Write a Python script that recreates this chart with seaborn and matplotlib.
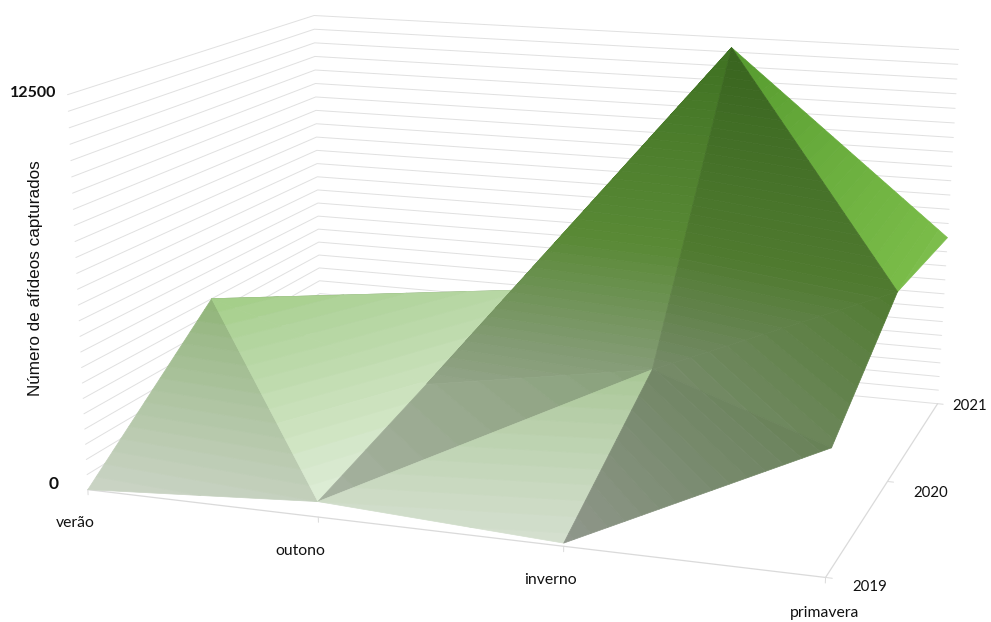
import numpy as np
import matplotlib
matplotlib.use("Agg")
import matplotlib.pyplot as plt
import seaborn as sns
from mpl_toolkits.mplot3d.art3d import Poly3DCollection

# Aphid captures per season and year
seasons = ["verão", "outono", "inverno", "primavera"]
years = ["2019", "2020", "2021"]
counts_2019 = [0, 500, 100, 3900]
counts_2020 = [4000, 1700, 2970, 6250]
counts_2021 = [400, 2800, 12150, 6000]

z_max = 12500
z_step = 500
band_step = 250
W, H = 991, 622

sns.set_theme(style="white")
plt.rcParams["font.family"] = ["Lato", "DejaVu Sans"]

surface = np.array([counts_2019, counts_2020, counts_2021], dtype=float)

# Colour of each height band, light at the floor and saturated green at the top
band_colors = np.array(sns.blend_palette(
    ["#e4f0de", "#b2d49d", "#7abc49", "#68ac3c", "#54992d"], n_colors=z_max // band_step))

# Triangulated mesh as (year index, season index) with a brightness for each face,
# listed from the back of the box to the front
faces = [
    (((1, 0), (2, 0), (2, 1)), 0.75),
    (((1, 0), (1, 1), (2, 1)), 1.00),
    (((1, 1), (2, 1), (2, 2)), 0.75),
    (((1, 1), (2, 2), (1, 2)), 0.73),
    (((2, 2), (2, 3), (1, 3)), 1.00),
    (((1, 2), (2, 2), (1, 3)), 0.65),
    (((0, 0), (0, 1), (1, 0)), 0.88),
    (((0, 1), (1, 1), (1, 0)), 1.00),
    (((0, 1), (1, 2), (1, 1)), 0.75),
    (((0, 1), (0, 2), (1, 2)), 0.93),
    (((1, 2), (0, 3), (1, 3)), 0.65),
    (((0, 2), (0, 3), (1, 2)), 0.63),
]

# Camera calibration: box corners (season, year, height) and where they fall on the canvas
box_corners = np.array([
    (0, 0, 0), (0, 0, 1), (3, 0, 0), (0, 2, 0), (0, 2, 1), (3, 2, 0), (3, 2, 1)], dtype=float)
canvas_corners = np.array([
    (87, 487), (67, 96), (827, 579), (321, 347), (315, 14), (937, 402), (958, 50)], dtype=float)


def fit_camera(world, image):
    rows, rhs = [], []
    for (x, y, z), (u, v) in zip(world, image):
        rows.append([x, y, z, 1, 0, 0, 0, 0, -u * x, -u * y, -u * z])
        rows.append([0, 0, 0, 0, x, y, z, 1, -v * x, -v * y, -v * z])
        rhs += [u, v]
    p = np.linalg.lstsq(np.array(rows), np.array(rhs), rcond=None)[0]
    p = np.append(p, 1.0).reshape(3, 4)
    p[:, 2] /= z_max
    # The depth row stays negative so the 3D line clipper keeps every point
    return np.array([p[0], p[1], [0.0, -0.1, 0.0, -0.1], p[2]])


def band_slice(tri, low, high):
    """Clip a triangle in 3D to the height interval [low, high]."""
    poly = [np.asarray(v, dtype=float) for v in tri]
    for level, keep_above in ((low, True), (high, False)):
        kept = []
        for a, b in zip(poly, poly[1:] + poly[:1]):
            ina = (a[2] >= level) if keep_above else (a[2] <= level)
            inb = (b[2] >= level) if keep_above else (b[2] <= level)
            if ina:
                kept.append(a)
            if ina != inb:
                t = (level - a[2]) / (b[2] - a[2])
                kept.append(a + t * (b - a))
        poly = kept
        if not poly:
            return []
    return poly


fig = plt.figure(figsize=(W / 100, H / 100), dpi=100, facecolor="white")
ax = fig.add_axes([0, 0, 1, 1], projection="3d", computed_zorder=False)
ax.set_axis_off()

# Projected coordinates stay inside the unit range the 3D line clipper expects
normalised = np.column_stack([canvas_corners[:, 0] / W - 0.5, 0.5 - canvas_corners[:, 1] / H])
camera = fit_camera(box_corners, normalised)
ax.get_proj = lambda: camera
ax.apply_aspect = lambda position=None: None
ax.viewLim.intervalx = (-0.5, 0.5)
ax.viewLim.intervaly = (-0.5, 0.5)

x_end, y_end = len(seasons) - 1, len(years) - 1
grid_kw = dict(color="#e0e0e0", lw=0.7, zorder=1)
axis_kw = dict(color="#dadada", zorder=1)

# Gridlines on the left and back walls
for level in np.arange(0, z_max + 1, z_step):
    ax.plot([0, 0, x_end], [0, y_end, y_end], [level, level, level], **grid_kw)

# Floor axes and their tick marks
ax.plot([0, x_end, x_end], [0, 0, y_end], [0, 0, 0], lw=0.9, **axis_kw)
for i in range(len(seasons)):
    ax.plot([i, i], [0, 0], [0, -170], lw=0.7, **axis_kw)
for j in range(len(years)):
    ax.plot([x_end, x_end + 0.025], [j, j], [0, 0], lw=0.7, **axis_kw)

# Surface faces, each cut into one polygon per height band
for order, (vertices, brightness) in enumerate(faces):
    tri = [(c, r, surface[r, c]) for r, c in vertices]
    polys, colors = [], []
    for k, rgb in enumerate(band_colors):
        poly = band_slice(tri, k * band_step, (k + 1) * band_step)
        if len(poly) >= 3:
            polys.append(poly)
            colors.append(rgb * brightness)
    ax.add_collection3d(Poly3DCollection(polys, facecolors=colors, edgecolors=colors,
                                         linewidths=0.5, zorder=10 + order))


def label(px, py, text, **kw):
    fig.text(px / W, 1 - py / H, text, ha="center", va="center", color="#111111", **kw)


label(33.5, 93, "12500", fontsize=11.5, fontweight="bold")
label(54, 484, "0", fontsize=12.5, fontweight="bold")
label(36, 278, "Número de afídeos capturados", fontsize=12.3, rotation=90,
      family=["Liberation Sans", "DejaVu Sans"])
for (px, py), text in zip([(75.5, 523), (300, 551), (550, 580), (825, 613)], seasons):
    label(px, py, text, fontsize=11.3)
for (px, py), text in zip([(869.5, 587), (930.5, 493), (970, 406)], years):
    label(px, py, text, fontsize=10.8)

fig.savefig("out.png", dpi=100, facecolor="white")
